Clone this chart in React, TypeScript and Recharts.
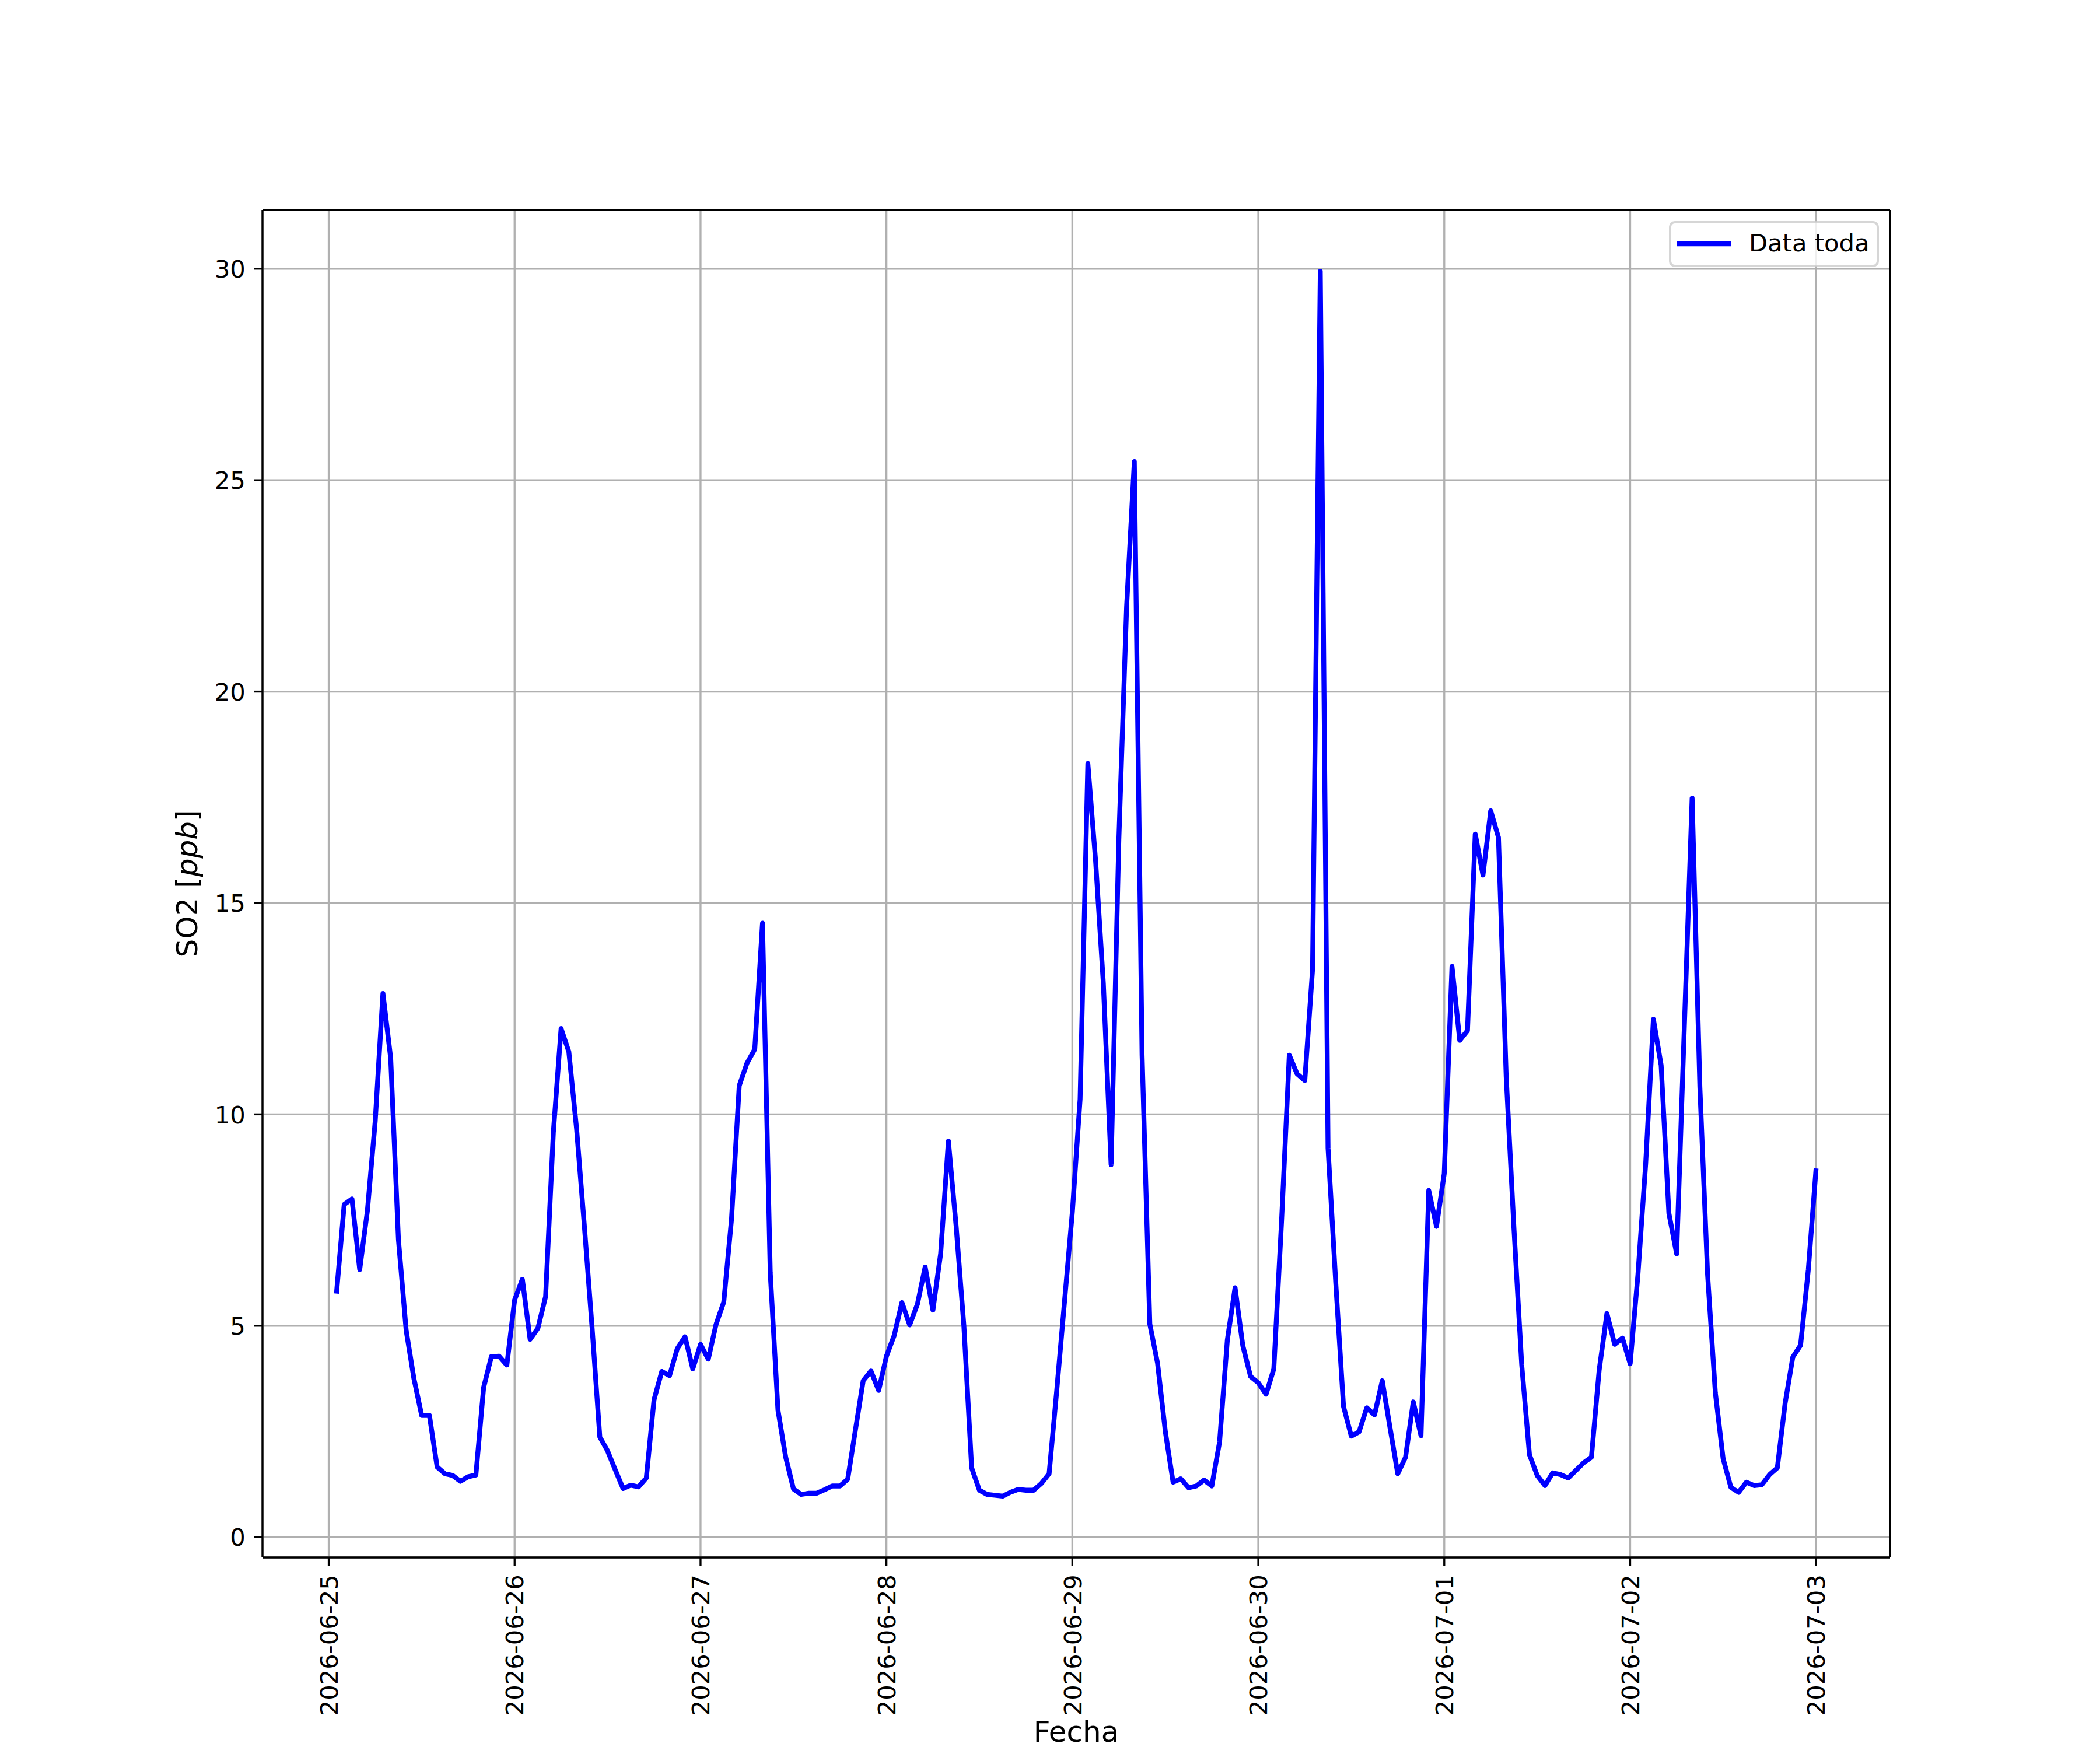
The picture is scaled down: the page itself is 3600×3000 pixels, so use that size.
import React from 'react';
import { LineChart, Line, XAxis, YAxis, CartesianGrid, ReferenceLine } from 'recharts';

// Hourly SO2 [ppb] readings. First value is 2026-06-25 01:00, last is 2026-07-03 00:00.
const day0625 = [5.76, 7.87, 8.0, 6.33, 7.73, 9.83, 12.86, 11.33, 7.04, 4.89, 3.75, 2.88, 2.88, 1.66, 1.5, 1.46, 1.32, 1.43, 1.47, 3.54, 4.27, 4.28, 4.07];
const day0626 = [5.61, 6.1, 4.68, 4.94, 5.69, 9.57, 12.03, 11.48, 9.66, 7.37, 4.96, 2.37, 2.04, 1.59, 1.15, 1.23, 1.19, 1.4, 3.25, 3.92, 3.82, 4.46, 4.74, 3.98];
const day0627 = [4.56, 4.21, 5.03, 5.56, 7.52, 10.68, 11.21, 11.54, 14.52, 6.26, 3.0, 1.89, 1.14, 1.01, 1.04, 1.04, 1.12, 1.21, 1.21, 1.37, 2.54, 3.7, 3.93, 3.47];
const day0628 = [4.28, 4.77, 5.55, 5.02, 5.51, 6.39, 5.37, 6.71, 9.37, 7.35, 4.99, 1.64, 1.11, 1.01, 0.99, 0.97, 1.06, 1.13, 1.11, 1.11, 1.27, 1.5, 3.5, 5.6];
const day0629 = [7.69, 10.36, 18.3, 16.0, 13.1, 8.81, 16.5, 22.0, 25.44, 11.4, 5.04, 4.11, 2.5, 1.3, 1.38, 1.17, 1.21, 1.35, 1.21, 2.25, 4.66, 5.9, 4.53, 3.8];
const day0630 = [3.65, 3.38, 3.98, 7.47, 11.4, 10.96, 10.8, 13.43, 29.94, 9.2, 6.0, 3.09, 2.39, 2.49, 3.06, 2.89, 3.7, 2.59, 1.5, 1.89, 3.2, 2.4, 8.2, 7.35];
const day0701 = [8.6, 13.5, 11.75, 11.98, 16.63, 15.66, 17.18, 16.55, 10.89, 7.3, 4.08, 1.95, 1.46, 1.22, 1.52, 1.48, 1.4, 1.58, 1.76, 1.89, 3.95, 5.29, 4.56, 4.71];
const day0702 = [4.1, 6.2, 8.82, 12.25, 11.16, 7.66, 6.7, 12.1, 17.48, 10.64, 6.2, 3.41, 1.86, 1.18, 1.06, 1.3, 1.22, 1.24, 1.48, 1.64, 3.16, 4.26, 4.54, 6.33];
const day0703 = [8.72];

const dateLabels = ['2026-06-25', '2026-06-26', '2026-06-27', '2026-06-28', '2026-06-29', '2026-06-30', '2026-07-01', '2026-07-02', '2026-07-03'];
const yTicks = [0, 5, 10, 15, 20, 25, 30];
const seriesName = 'Data toda';

const allValues = [...day0625, ...day0626, ...day0627, ...day0628, ...day0629, ...day0630, ...day0701, ...day0702, ...day0703];
// x = hours since 2026-06-25 00:00
const data = allValues.map((v, i) => ({ h: i + 1, so2: v }));
const xTicks = dateLabels.map((_, i) => i * 24);

const X_DOMAIN: [number, number] = [-8.55, 201.55];
const Y_DOMAIN: [number, number] = [-0.48, 31.39];

const FONT = 'DejaVu Sans';
const TICK_FS = 41.67;
const LABEL_FS = 50;
const PLOT_BOTTOM = 2670;
const PLOT_LEFT = 450;

const XTick = (props: any) => {
  const { x, payload } = props;
  const idx = xTicks.indexOf(payload.value);
  const label = idx >= 0 ? dateLabels[idx] : '';
  const ax = x + 15.2;
  const ay = PLOT_BOTTOM + 29.2;
  return (
    <text x={ax} y={ay} transform={`rotate(-90, ${ax}, ${ay})`} textAnchor="end" fontSize={TICK_FS} fontFamily={FONT} fill="#000">
      {label}
    </text>
  );
};

const YTick = (props: any) => {
  const { y, payload } = props;
  return (
    <text x={PLOT_LEFT - 29.2} y={y + 15.2} textAnchor="end" fontSize={TICK_FS} fontFamily={FONT} fill="#000">
      {payload.value}
    </text>
  );
};

const XLabel = () => (
  <text x={1845} y={2986} textAnchor="middle" fontSize={LABEL_FS} fontFamily={FONT} fill="#000">
    Fecha
  </text>
);

const YLabel = () => (
  <text x={338} y={1515} transform="rotate(-90, 338, 1515)" textAnchor="middle" fontSize={LABEL_FS} fontFamily={FONT} fill="#000">
    SO2 [<tspan fontStyle="italic">ppb</tspan>]
  </text>
);

export default function App() {
  const spine = { stroke: '#000', strokeWidth: 3.33 };
  return (
    <div style={{ position: 'absolute', left: 0, top: 0, width: 3600, height: 3000, background: '#fff' }}>
      <LineChart width={3600} height={3000} data={data} margin={{ top: 360, right: 360, bottom: 0, left: 0 }}>
        <CartesianGrid stroke="#b0b0b0" strokeWidth={3.33} />
        <XAxis
          dataKey="h"
          type="number"
          domain={X_DOMAIN}
          allowDataOverflow
          ticks={xTicks}
          interval={0}
          height={330}
          axisLine={false}
          tickLine={{ stroke: '#000', strokeWidth: 3.33 }}
          tickSize={14.6}
          tick={<XTick />}
          label={{ content: () => <XLabel /> }}
        />
        <YAxis
          type="number"
          domain={Y_DOMAIN}
          allowDataOverflow
          ticks={yTicks}
          interval={0}
          width={450}
          axisLine={false}
          tickLine={{ stroke: '#000', strokeWidth: 3.33 }}
          tickSize={14.6}
          tick={<YTick />}
          label={{ content: () => <YLabel /> }}
        />
        <Line
          type="linear"
          dataKey="so2"
          name={seriesName}
          stroke="#0000ff"
          strokeWidth={8.33}
          strokeLinejoin="round"
          dot={false}
          activeDot={false}
          isAnimationActive={false}
        />
        <ReferenceLine x={X_DOMAIN[0]} {...spine} ifOverflow="visible" />
        <ReferenceLine x={X_DOMAIN[1]} {...spine} ifOverflow="visible" />
        <ReferenceLine y={Y_DOMAIN[0]} {...spine} ifOverflow="visible" />
        <ReferenceLine y={Y_DOMAIN[1]} {...spine} ifOverflow="visible" />
      </LineChart>
      <svg style={{ position: 'absolute', left: 2850, top: 370 }} width={380} height={100}>
        <rect x={13} y={11} width={356} height={75} rx={8} ry={8} fill="#fff" fillOpacity={0.8} stroke="#cccccc" strokeOpacity={0.8} strokeWidth={4} />
        <line x1={25} y1={48} x2={117} y2={48} stroke="#0000ff" strokeWidth={8.33} />
        <text x={148} y={61} fontSize={TICK_FS} fontFamily={FONT} fill="#000">
          {seriesName}
        </text>
      </svg>
    </div>
  );
}
